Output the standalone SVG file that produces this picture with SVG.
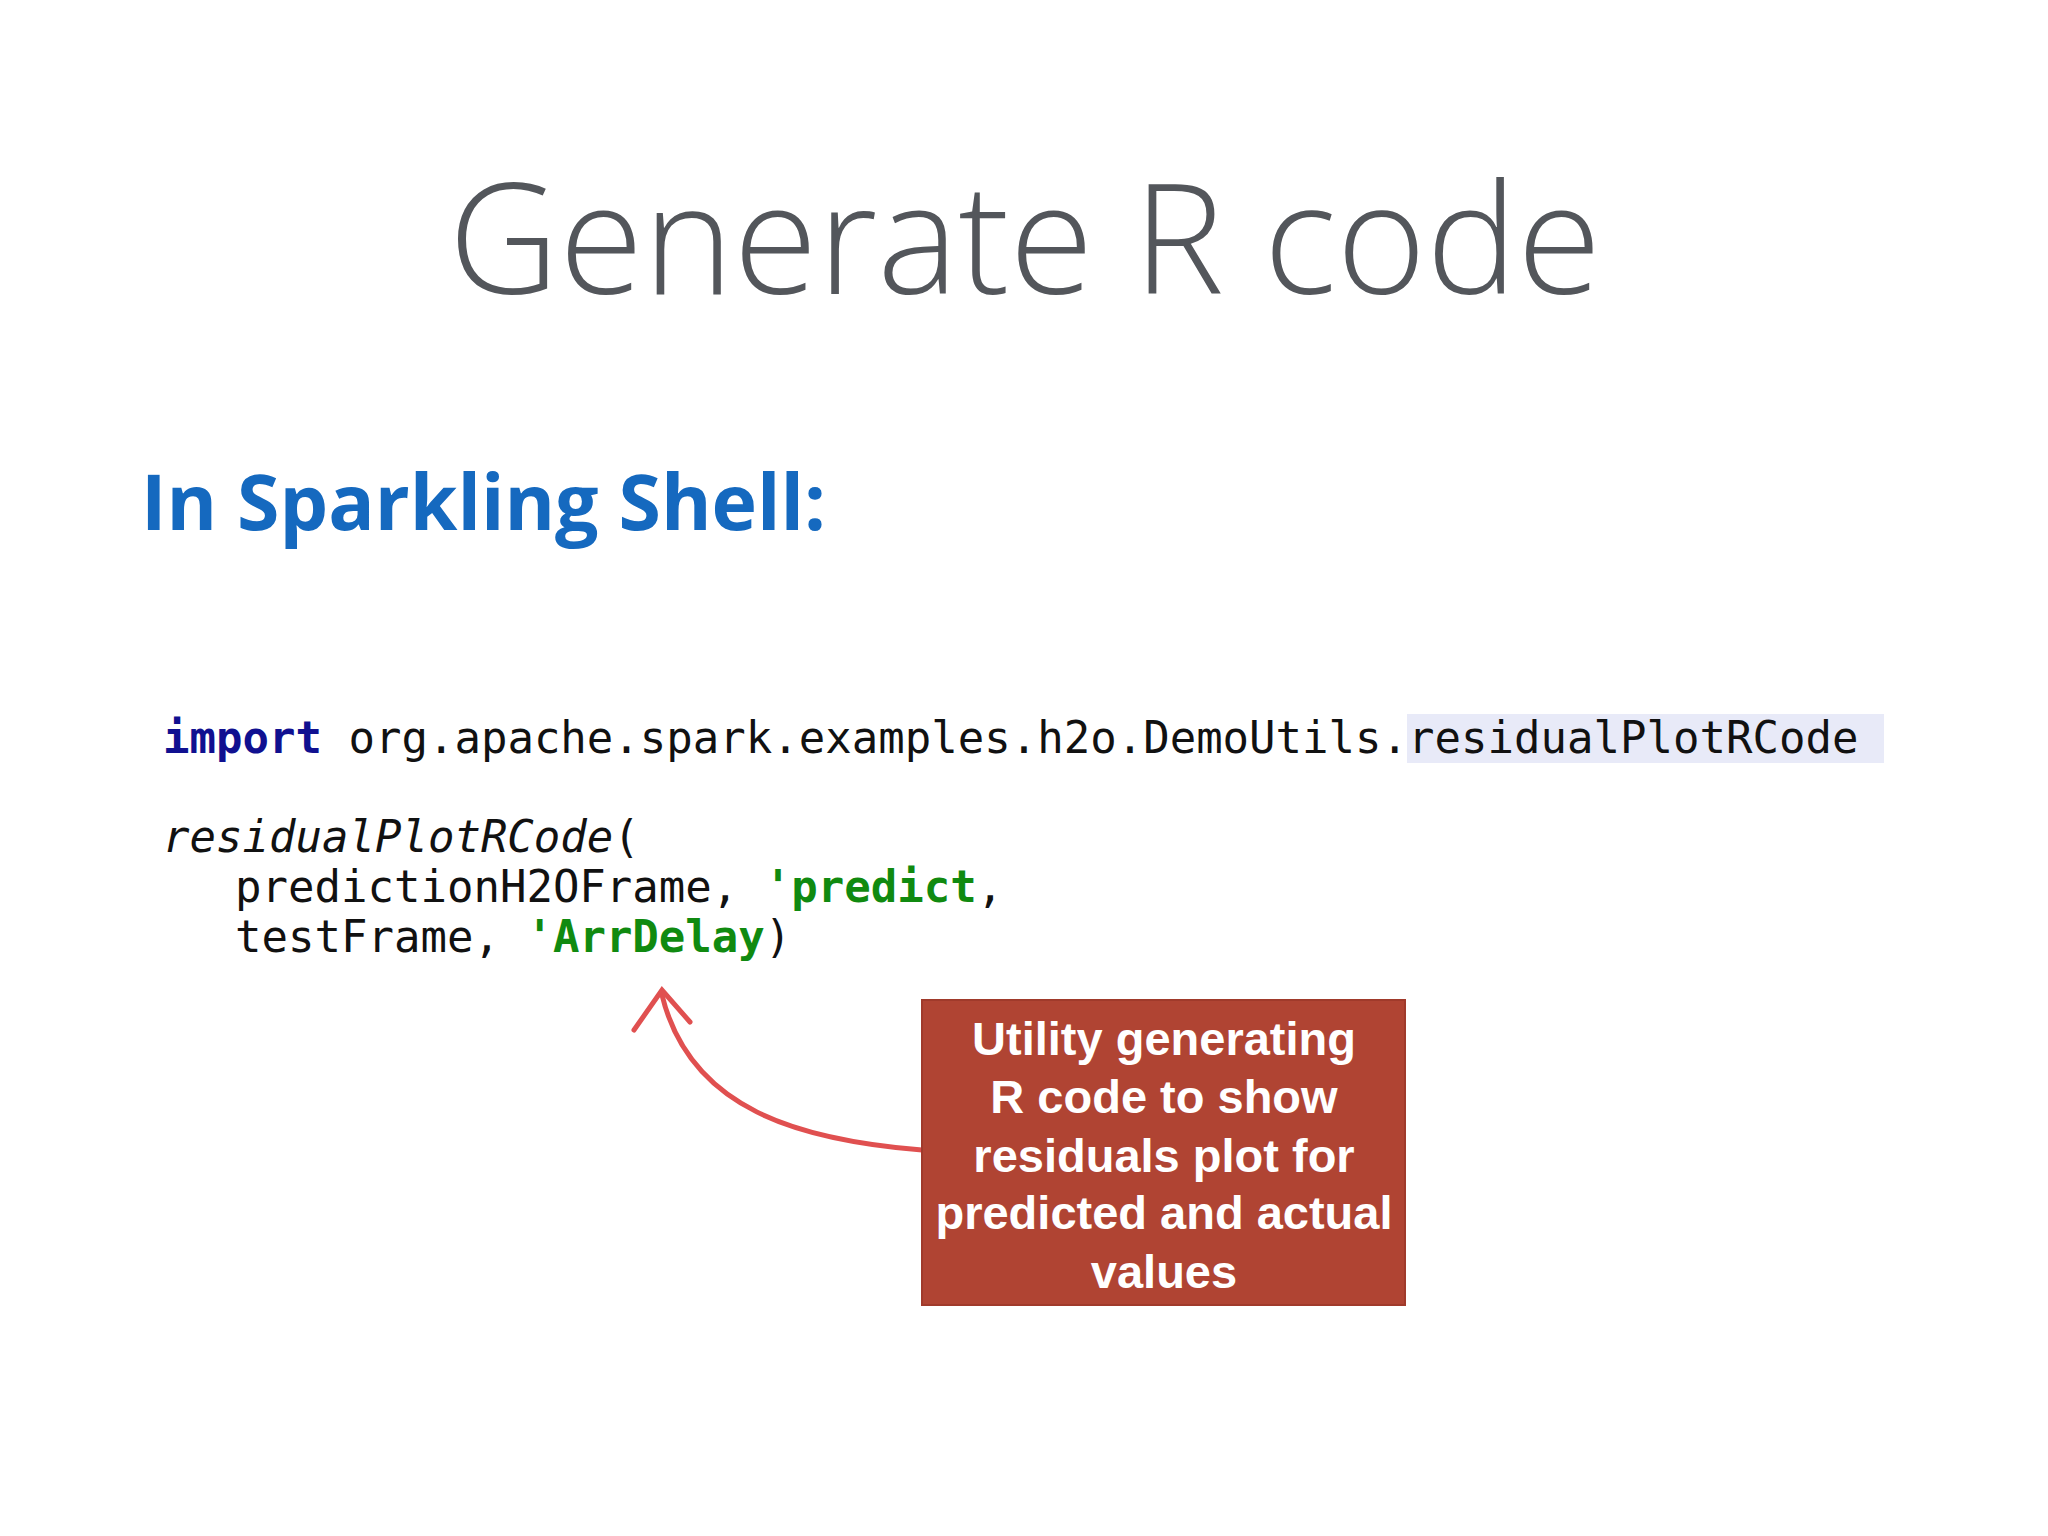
<svg xmlns="http://www.w3.org/2000/svg" width="2048" height="1536" viewBox="0 0 2048 1536">
<style>
.code{font-family:"DejaVu Sans Mono",monospace;font-size:44px;fill:#111}
.kw{fill:#101090;font-weight:bold}
.str{fill:#108a10;font-weight:bold}
.box{font-family:"Liberation Sans",Arial,sans-serif;font-weight:bold;font-size:47px;fill:#fff;text-anchor:middle}
</style>
<rect width="2048" height="1536" fill="#fff"/>
<text x="1025" y="294" text-anchor="middle" font-family="'Open Sans',sans-serif" font-weight="300" font-size="153" fill="#53565b">Generate R code</text>
<text x="141" y="530" font-family="'Open Sans',sans-serif" font-weight="bold" font-size="77" fill="#1569bf">In Sparkling Shell:</text>
<g id="code">
<rect x="1407" y="714" width="477" height="49" fill="#e8eaf8"/>
<text class="code" x="163" y="753"><tspan class="kw">import</tspan> org.apache.spark.examples.h2o.DemoUtils.residualPlotRCode</text>
<text class="code" x="163" y="852"><tspan font-style="italic">residualPlotRCode</tspan>(</text>
<text class="code" x="235" y="902">predictionH2OFrame, <tspan class="str">'predict</tspan>,</text>
<text class="code" x="235" y="952">testFrame, <tspan class="str">'ArrDelay</tspan>)</text>
</g>
<g id="connectors" fill="none" stroke="#e05050" stroke-width="5" stroke-linecap="round">
<path d="M922 1150 C 800 1140 690 1110 662 995"/>
<path d="M634 1030 L662 990 L690 1022"/>
</g>
<g id="note">
<rect x="922" y="1000" width="483" height="305" fill="#b04433" stroke="#a03a2b" stroke-width="2"/>
<text class="box" x="1164" y="1055">Utility generating</text>
<text class="box" x="1164" y="1113">R code to show</text>
<text class="box" x="1164" y="1172">residuals plot for</text>
<text class="box" x="1164" y="1229">predicted and actual</text>
<text class="box" x="1164" y="1288">values</text>
</g>
</svg>
